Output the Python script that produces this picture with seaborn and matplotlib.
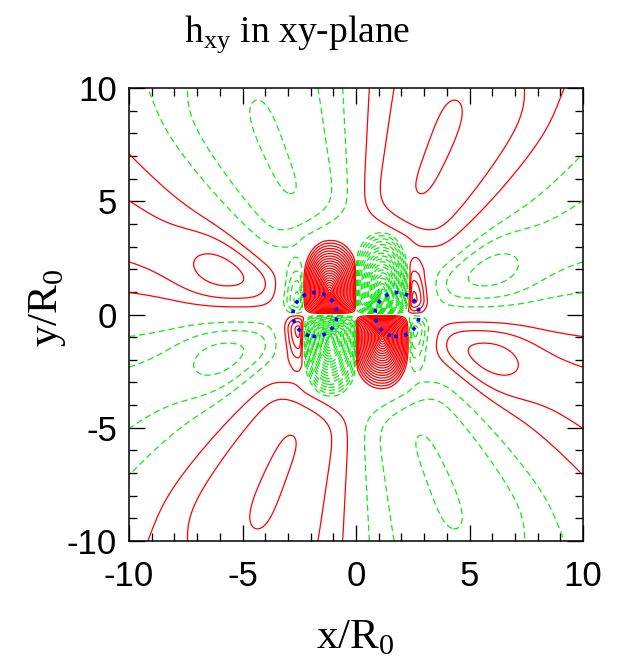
import numpy as np
import matplotlib
matplotlib.use("Agg")
import matplotlib.pyplot as plt
import seaborn as sns

# ---------------- contour levels (field in units of one contour step) ----------------
level_step = 1.0
n_levels = 26

# ---------------- outer wave zone, written for the quadrant x>0, y>0 ----------------
# angle (deg) of the zero line separating the two outer lobes: base + slope * r
zero_line_base_deg = 29.0
zero_line_slope_deg = 1.0
zero_line_clip_deg = [30.0, 45.0]
outer_sign = [-1.0, 1.0]          # lobe below / above the zero line
outer_onset_r = [3.75, 4.40]
outer_onset_w = [0.35, 0.40]
outer_plateau = [2.30, 3.05]
outer_swell = [1.10, 0.00]
outer_swell_r = [6.30, 8.00]
outer_swell_w = [1.80, 1.00]
outer_fade = [0.00, 1.00]
outer_fade_r = [14.0, 12.5]
outer_fade_w = [1.00, 0.70]
outer_window_pow = [1.0, 0.7]

# ---------------- compact lobes in the upper half plane ----------------
# the lower half follows from h(x, y) = h(-x, -y)
lobe_shape = ["cone", "cone", "gauss", "gauss"]
lobe_x = [-1.17, 1.17, -2.60, 2.55]
lobe_y = [1.00, 1.00, 0.65, 0.65]
lobe_amp = [22.0, -22.0, -4.4, 4.4]
lobe_left = [1.30, 1.45, 0.55, 0.30]
lobe_right = [1.45, 1.30, 0.30, 0.55]
lobe_down = [1.05, 1.05, 0.55, 0.55]
lobe_up = [2.45, 2.85, 1.40, 1.40]

# ---------------- stellar surfaces ----------------
star_x = [-1.81, 1.81]
star_y = [0.0, 0.0]
star_radius = [0.97, 0.97]

axis_ticks = [-10, -5, 0, 5, 10]


def sig(z):
    return 1.0 / (1.0 + np.exp(-z))


def upper_field(x, y):
    """h_xy for y >= 0."""
    u = np.abs(x)
    v = y
    r = np.hypot(u, v) + 1e-9
    phi = np.degrees(np.arctan2(v, u))
    phi0 = np.clip(zero_line_base_deg + zero_line_slope_deg * r, *zero_line_clip_deg)
    outer = np.zeros_like(x)
    for k in range(len(outer_sign)):
        if outer_sign[k] < 0:
            s = phi / phi0
        else:
            s = (phi - phi0) / (90.0 - phi0)
        inside = (s > 0) & (s < 1)
        win = np.where(inside, np.sin(np.pi * np.clip(s, 0, 1)), 0.0)
        win = np.clip(win, 0, None) ** outer_window_pow[k]
        radial = sig((r - outer_onset_r[k]) / outer_onset_w[k]) * (
            outer_plateau[k]
            + outer_swell[k] * np.exp(-((r - outer_swell_r[k]) / outer_swell_w[k]) ** 2)
            - outer_fade[k] * sig((r - outer_fade_r[k]) / outer_fade_w[k])
        )
        outer += outer_sign[k] * radial * win
    f = np.sign(x) * outer

    eps = 0.06
    wall_y = np.tanh(v / eps)
    for k in range(len(lobe_x)):
        dx = x - lobe_x[k]
        dy = y - lobe_y[k]
        sx = np.where(dx < 0, lobe_left[k], lobe_right[k])
        sy = np.where(dy < 0, lobe_down[k], lobe_up[k])
        if lobe_shape[k] == "cone":
            # rounded dome above the centre, squarer corners below it
            p = np.where(dy > 0, 2.2, 4.0)
            d = ((np.abs(dx) / sx) ** p + (np.abs(dy) / sy) ** p) ** (1.0 / p)
            val = lobe_amp[k] * np.clip(1.0 - d, 0, None) ** 1.1
        else:
            val = lobe_amp[k] * np.exp(-((dx / sx) ** 2 + (dy / sy) ** 2))
        side = np.tanh(np.clip(np.sign(lobe_x[k]) * x, 0, None) / eps)
        f = f + val * wall_y * side
    return f


grid = np.linspace(-10, 10, 501)
X, Y = np.meshgrid(grid, grid)
H = np.where(Y >= 0, upper_field(X, Y), upper_field(-X, -Y))

S = np.full_like(X, -np.inf)
for cx, cy, rad in zip(star_x, star_y, star_radius):
    S = np.maximum(S, rad ** 2 - (X - cx) ** 2 - (Y - cy) ** 2)

# ---------------- drawing ----------------
sns.set_theme(style="ticks")
plt.rcParams["font.family"] = ["Liberation Sans", "DejaVu Sans"]
plt.rcParams["mathtext.fontset"] = "custom"
plt.rcParams["mathtext.rm"] = "Liberation Serif"
plt.rcParams["axes.unicode_minus"] = False

fig = plt.figure(figsize=(6.21, 6.71), dpi=100)
ax = fig.add_axes([129 / 621, 1 - 541 / 671, 454 / 621, 453 / 671])

pos_levels = np.arange(1, n_levels + 1) * level_step
ax.contour(X, Y, H, levels=pos_levels, colors="#ff0000",
           linewidths=0.9, linestyles="solid")
ax.contour(X, Y, H, levels=-pos_levels[::-1], colors="#10e810",
           linewidths=0.9, linestyles=[(0, (5, 3))])
ax.contour(X, Y, S, levels=[0.0], colors="#0000ff", linewidths=2.6,
           linestyles=[(0, (1, 1.8))], zorder=5)

ax.set_xlim(-10, 10)
ax.set_ylim(-10, 10)
ax.set_xticks(axis_ticks)
ax.set_yticks(axis_ticks)
ax.set_xticks(np.arange(-10, 11, 1), minor=True)
ax.set_yticks(np.arange(-10, 11, 1), minor=True)
ax.tick_params(which="both", direction="in", top=True, right=True,
               color="black", labelcolor="black")
ax.tick_params(which="major", length=11.5, width=0.95, labelsize=25)
ax.tick_params(which="minor", length=5.8, width=0.95)
ax.tick_params(axis="x", which="major", pad=14)
ax.tick_params(axis="y", which="major", pad=8.5)
for sp in ax.spines.values():
    sp.set_linewidth(1.1)
    sp.set_color("black")

serif = "Liberation Serif"
fig.text(297.5 / 621, 1 - 42 / 671, r"h$_{\mathregular{xy}}$ in xy-plane",
         ha="center", va="baseline", fontsize=27, family=serif, color="black")
fig.text(355 / 621, 1 - 648 / 671, r"x/R$_{\mathregular{0}}$",
         ha="center", va="baseline", fontsize=31, family=serif, color="black")
fig.text(57 / 621, 1 - 308 / 671, r"y/R$_{\mathregular{0}}$",
         ha="center", va="baseline", rotation=90, rotation_mode="anchor",
         fontsize=31, family=serif, color="black")

fig.savefig("out.png", dpi=100)
